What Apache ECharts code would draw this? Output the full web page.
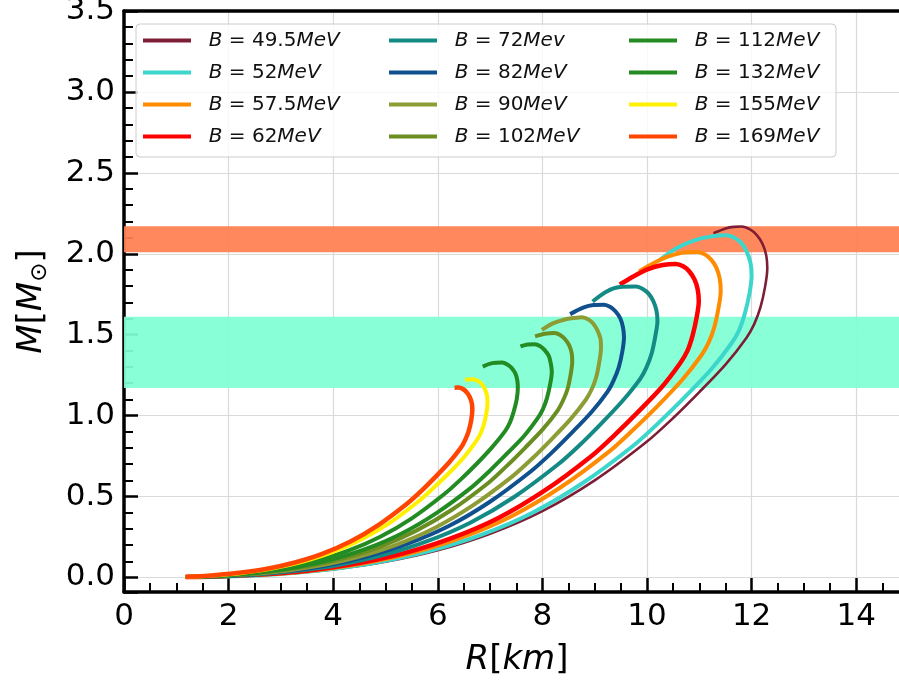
<!DOCTYPE html>
<html>
<head>
<meta charset="utf-8">
<script src="https://cdn.jsdelivr.net/npm/echarts@6/dist/echarts.min.js"></script>
<style>html,body{margin:0;padding:0;background:#fff}#c{width:899px;height:685px}</style>
</head>
<body>
<div id="c"></div>
<script>
// ---- data ----
const bagValues = ['49.5', '52', '57.5', '62', '72', '82', '90', '102', '112', '132', '155', '169'];
const bagUnits  = ['MeV', 'MeV', 'MeV', 'MeV', 'Mev', 'MeV', 'MeV', 'MeV', 'MeV', 'MeV', 'MeV', 'MeV'];

const R_49_5 = [1.18, 2.0, 3.0, 4.0, 5.0, 6.0, 7.0, 8.0, 9.0, 10.0, 10.5, 11.0, 11.5, 11.9, 12.05, 12.17, 12.26, 12.30, 12.28, 12.21, 12.10, 11.97, 11.81, 11.66, 11.52, 11.27];
const M_49_5 = [0.002, 0.006, 0.021, 0.05, 0.097, 0.168, 0.27, 0.41, 0.60, 0.84, 0.985, 1.145, 1.315, 1.48, 1.565, 1.67, 1.80, 1.91, 1.99, 2.06, 2.115, 2.15, 2.168, 2.166, 2.158, 2.127];

const R_52 = [1.18, 1.95, 2.93, 3.90, 4.88, 5.85, 6.83, 7.81, 8.78, 9.76, 10.24, 10.73, 11.22, 11.61, 11.76, 11.87, 11.96, 12.0, 11.98, 11.91, 11.81, 11.68, 11.52, 11.2, 10.88, 10.57, 10.25];
const M_52 = [0.002, 0.006, 0.02, 0.049, 0.095, 0.164, 0.263, 0.40, 0.585, 0.82, 0.961, 1.117, 1.283, 1.444, 1.527, 1.63, 1.756, 1.864, 1.942, 2.01, 2.064, 2.098, 2.115, 2.106, 2.08, 2.035, 1.962];

const R_57_5 = [1.18, 1.86, 2.78, 3.71, 4.64, 5.57, 6.49, 7.42, 8.35, 9.28, 9.74, 10.21, 10.67, 11.04, 11.18, 11.29, 11.37, 11.41, 11.39, 11.33, 11.23, 11.11, 10.96, 10.69, 10.38, 10.06, 9.85];
const M_57_5 = [0.002, 0.006, 0.019, 0.046, 0.09, 0.156, 0.25, 0.38, 0.557, 0.779, 0.914, 1.062, 1.22, 1.373, 1.452, 1.55, 1.67, 1.772, 1.846, 1.911, 1.962, 1.995, 2.011, 2.007, 1.98, 1.93, 1.89];

const R_62 = [1.18, 1.79, 2.68, 3.57, 4.47, 5.36, 6.25, 7.15, 8.04, 8.94, 9.38, 9.83, 10.28, 10.63, 10.77, 10.87, 10.95, 10.99, 10.97, 10.91, 10.81, 10.70, 10.55, 10.3, 10.02, 9.74, 9.48];
const M_62 = [0.002, 0.006, 0.019, 0.045, 0.087, 0.15, 0.241, 0.366, 0.536, 0.751, 0.88, 1.023, 1.175, 1.322, 1.398, 1.493, 1.608, 1.707, 1.778, 1.84, 1.89, 1.921, 1.937, 1.93, 1.905, 1.86, 1.81];

const R_72 = [1.18, 1.66, 2.49, 3.32, 4.15, 4.97, 5.80, 6.63, 7.46, 8.29, 8.71, 9.12, 9.53, 9.87, 9.99, 10.09, 10.16, 10.20, 10.18, 10.12, 10.03, 9.92, 9.79, 9.48, 9.23, 8.96];
const M_72 = [0.002, 0.005, 0.017, 0.041, 0.08, 0.139, 0.224, 0.34, 0.497, 0.696, 0.817, 0.949, 1.09, 1.227, 1.298, 1.385, 1.492, 1.584, 1.65, 1.708, 1.754, 1.783, 1.797, 1.794, 1.767, 1.705];

const R_82 = [1.18, 2.33, 3.11, 3.89, 4.66, 5.44, 6.22, 6.99, 7.77, 8.16, 8.55, 8.94, 9.25, 9.36, 9.46, 9.53, 9.56, 9.54, 9.49, 9.40, 9.30, 9.18, 8.98, 8.78, 8.53];
const M_82 = [0.002, 0.016, 0.039, 0.075, 0.131, 0.21, 0.319, 0.466, 0.653, 0.765, 0.89, 1.022, 1.15, 1.216, 1.298, 1.399, 1.484, 1.546, 1.6, 1.643, 1.671, 1.685, 1.683, 1.667, 1.627];

const R_90 = [1.18, 2.22, 2.97, 3.71, 4.45, 5.19, 5.93, 6.67, 7.42, 7.79, 8.16, 8.53, 8.83, 8.94, 9.03, 9.09, 9.12, 9.11, 9.05, 8.97, 8.88, 8.76, 8.6, 8.43, 8.21, 7.99];
const M_90 = [0.002, 0.016, 0.037, 0.072, 0.125, 0.20, 0.304, 0.445, 0.623, 0.73, 0.849, 0.975, 1.098, 1.161, 1.239, 1.335, 1.416, 1.476, 1.528, 1.569, 1.594, 1.608, 1.603, 1.594, 1.571, 1.53];

const R_102 = [1.18, 2.09, 2.79, 3.48, 4.18, 4.88, 5.57, 6.27, 6.97, 7.31, 7.66, 8.01, 8.29, 8.39, 8.48, 8.54, 8.57, 8.56, 8.51, 8.43, 8.34, 8.23, 8.05, 7.86];
const M_102 = [0.002, 0.015, 0.035, 0.068, 0.117, 0.188, 0.286, 0.418, 0.585, 0.686, 0.798, 0.916, 1.031, 1.09, 1.163, 1.254, 1.331, 1.386, 1.435, 1.473, 1.498, 1.51, 1.506, 1.49];

const R_112 = [1.18, 1.99, 2.66, 3.32, 3.99, 4.65, 5.32, 5.98, 6.65, 6.98, 7.31, 7.65, 7.91, 8.01, 8.09, 8.15, 8.18, 8.16, 8.12, 8.04, 7.96, 7.85, 7.72, 7.58];
const M_112 = [0.002, 0.014, 0.033, 0.064, 0.112, 0.179, 0.273, 0.399, 0.558, 0.655, 0.761, 0.874, 0.984, 1.04, 1.111, 1.197, 1.27, 1.323, 1.37, 1.406, 1.429, 1.441, 1.44, 1.427];

const R_132 = [1.18, 1.84, 2.45, 3.06, 3.67, 4.29, 4.90, 5.51, 6.12, 6.43, 6.74, 7.04, 7.29, 7.38, 7.45, 7.51, 7.53, 7.52, 7.48, 7.41, 7.33, 7.23, 7.04, 6.86];
const M_132 = [0.002, 0.013, 0.031, 0.059, 0.103, 0.165, 0.251, 0.367, 0.514, 0.603, 0.701, 0.805, 0.906, 0.958, 1.023, 1.102, 1.17, 1.218, 1.262, 1.295, 1.316, 1.328, 1.324, 1.303];

const R_155 = [1.18, 1.70, 2.26, 2.83, 3.39, 3.96, 4.52, 5.09, 5.65, 5.93, 6.22, 6.50, 6.72, 6.81, 6.88, 6.93, 6.95, 6.94, 6.90, 6.84, 6.76, 6.67, 6.52];
const M_155 = [0.003, 0.012, 0.028, 0.055, 0.095, 0.153, 0.232, 0.339, 0.475, 0.557, 0.647, 0.743, 0.836, 0.884, 0.944, 1.017, 1.079, 1.125, 1.164, 1.195, 1.215, 1.225, 1.222];

const R_169 = [1.18, 1.62, 2.16, 2.71, 3.25, 3.79, 4.33, 4.87, 5.41, 5.68, 5.95, 6.22, 6.44, 6.52, 6.59, 6.64, 6.66, 6.65, 6.61, 6.55, 6.48, 6.40, 6.32];
const M_169 = [0.004, 0.011, 0.027, 0.052, 0.091, 0.146, 0.222, 0.325, 0.455, 0.533, 0.62, 0.712, 0.801, 0.847, 0.904, 0.974, 1.034, 1.077, 1.115, 1.145, 1.164, 1.174, 1.172];

const curveR = [R_49_5, R_52, R_57_5, R_62, R_72, R_82, R_90, R_102, R_112, R_132, R_155, R_169];
const curveM = [M_49_5, M_52, M_57_5, M_62, M_72, M_82, M_90, M_102, M_112, M_132, M_155, M_169];

const bandCoral = [2.01, 2.17];
const bandAqua  = [1.17, 1.61];

const xTicks = [0, 2, 4, 6, 8, 10, 12, 14];

// ---- styles ----
const colors = ['#7E1E36', '#3CD6CC', '#FF8C00', '#FF0000', '#138A84', '#10508E', '#8D9C34', '#6B8E23', '#228B22', '#228B22', '#FFF000', '#FF4500'];
const widths = [2.6, 4, 4, 4.5, 4, 4, 4, 4, 4, 4, 4, 4.5];
const FONT = 'DejaVu Sans';
const X_PX_PER_UNIT = 52.3;

function seriesName(i) { return 'B = ' + bagValues[i] + bagUnits[i]; }

const series = [{
  type: 'line', name: '__bands', data: [], silent: true, z: 1,
  markArea: {
    silent: true,
    data: [
      [{ yAxis: bandCoral[0], itemStyle: { color: '#FF7F50', opacity: 0.93 } }, { yAxis: bandCoral[1] }],
      [{ yAxis: bandAqua[0], itemStyle: { color: '#7FFFD4', opacity: 0.93 } }, { yAxis: bandAqua[1] }]
    ]
  }
}];
curveR.forEach((rs, i) => {
  series.push({
    type: 'line', name: seriesName(i),
    data: rs.map((r, k) => [r, curveM[i][k]]),
    showSymbol: false, symbol: 'none', smooth: 0.3, z: 3,
    color: colors[i],
    lineStyle: { color: colors[i], width: widths[i], cap: 'butt' }
  });
});

const richLegend = {
  i: { fontFamily: FONT, fontSize: 20, fontStyle: 'italic', color: '#111', lineHeight: 22 },
  n: { fontFamily: FONT, fontSize: 20, color: '#111', lineHeight: 22 }
};
function legendFmt(name) {
  const m = name.match(/^B = ([\d.]+)(\w+)$/);
  return '{n|  }{i|B}{n| = ' + m[1] + '}{i|' + m[2] + '}';
}
const legendCols = [[0, 1, 2, 3], [4, 5, 6, 7], [8, 9, 10, 11]];
const legendLeft = [143, 389, 629];
const legends = legendCols.map((col, k) => ({
  data: col.map(seriesName),
  orient: 'vertical', left: legendLeft[k], top: 29.5,
  itemWidth: 48, itemHeight: 4, itemGap: 10, icon: 'rect',
  selectedMode: false, padding: 0, z: 10,
  textStyle: { fontFamily: FONT, fontSize: 20, color: '#111', lineHeight: 22, rich: richLegend },
  formatter: legendFmt
}));

const axisCommon = {
  axisLine: { show: true, onZero: false, lineStyle: { color: '#000', width: 3.5 } },
  axisTick: { show: true, inside: true, length: 14, lineStyle: { color: '#000', width: 2.5 } },
  splitLine: { show: true, lineStyle: { color: '#dadada', width: 1.2 } }
};

const option = {
  animation: false,
  backgroundColor: '#fff',
  grid: { left: 124, top: 11, width: 16 * X_PX_PER_UNIT, bottom: 93, containLabel: false, outerBoundsMode: 'none' },
  legend: legends,
  graphic: [{
    type: 'rect', z: 9, silent: true,
    shape: { x: 136, y: 24, width: 700, height: 133, r: 4 },
    style: { fill: 'rgba(255,255,255,0.8)', stroke: '#cccccc', lineWidth: 1 }
  }],
  xAxis: [Object.assign({}, axisCommon, {
    type: 'value', min: 0, max: 16, interval: 2, position: 'bottom',
    minorTick: { show: true, splitNumber: 4, length: 9, lineStyle: { color: '#000', width: 2 } },
    axisLabel: {
      fontFamily: FONT, fontSize: 31, color: '#000', margin: 9,
      formatter: v => (xTicks.indexOf(v) >= 0 ? String(v) : '')
    },
    name: '{i|R}{n|[}{i|km}{n|]}', nameLocation: 'middle', nameGap: 51,
    nameTextStyle: {
      padding: [0, 2 * (418.4 - 393), 0, 0],
      rich: {
        i: { fontFamily: FONT, fontSize: 34, fontStyle: 'italic', color: '#000' },
        n: { fontFamily: FONT, fontSize: 34, color: '#000' }
      }
    }
  }), {
    type: 'value', min: 0, max: 16, position: 'top',
    axisLine: { show: true, onZero: false, lineStyle: { color: '#000', width: 3.5 } },
    axisTick: { show: false }, axisLabel: { show: false }, splitLine: { show: false }
  }],
  yAxis: Object.assign({}, axisCommon, {
    type: 'value', min: -0.09, max: 3.5, splitNumber: 7,
    minorTick: { show: true, splitNumber: 5, length: 9, lineStyle: { color: '#000', width: 2 } },
    axisLabel: {
      fontFamily: FONT, fontSize: 31, color: '#000', margin: 9, showMinLabel: false,
      formatter: v => v.toFixed(1)
    },
    name: '{i|M}{n|[}{i|M}{s|⊙}{n|]}', nameLocation: 'middle', nameRotate: 90, nameGap: 72,
    nameTextStyle: {
      rich: {
        i: { fontFamily: FONT, fontSize: 34, fontStyle: 'italic', color: '#000', lineHeight: 40 },
        n: { fontFamily: FONT, fontSize: 34, color: '#000', lineHeight: 40 },
        s: { fontFamily: FONT, fontSize: 23, color: '#000', lineHeight: 24, verticalAlign: 'bottom' }
      }
    }
  }),
  series: series
};

const chart = echarts.init(document.getElementById('c'), null, { renderer: 'canvas' });
chart.setOption(option);
</script>
</body>
</html>
